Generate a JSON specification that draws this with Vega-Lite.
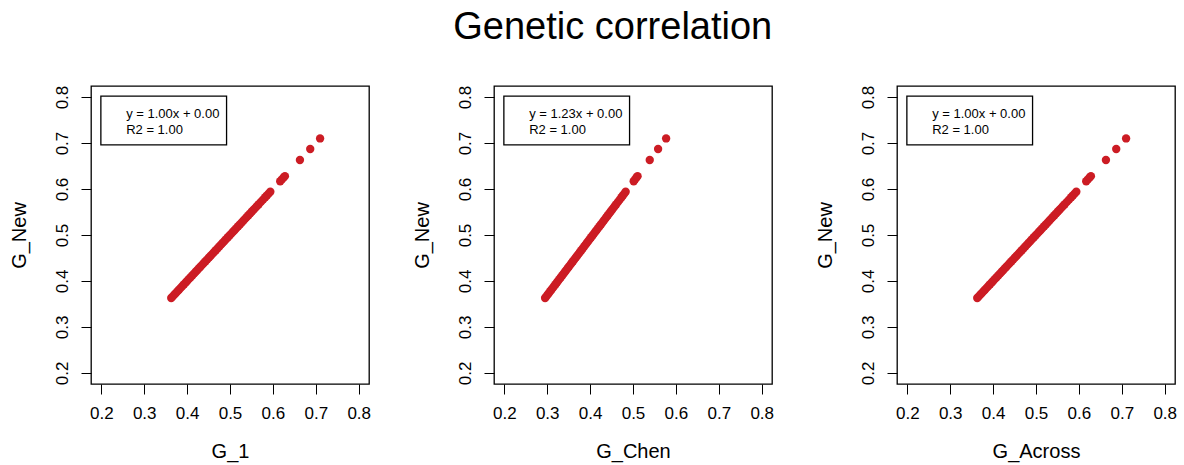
{
  "$schema": "https://vega.github.io/schema/vega-lite/v6.json",
  "background": "white",
  "padding": {"left": 8, "top": 8, "right": 5, "bottom": 5},
  "title": {"text": "Genetic correlation", "fontSize": 38, "fontWeight": "normal", "font": "Liberation Sans", "color": "black", "anchor": "middle", "offset": 38, "dx": 20},
  "config": {
    "font": "Liberation Sans",
    "view": {"stroke": "black", "strokeWidth": 1.3},
    "concat": {"spacing": 125},
    "axis": {"grid": false, "domain": false, "tickColor": "black", "tickSize": 10, "tickWidth": 1, "labelFont": "Liberation Sans", "labelFontSize": 17, "labelColor": "black", "titleFont": "Liberation Sans", "titleFontSize": 20, "titleFontWeight": "normal", "titleColor": "black", "values": [0.2, 0.3, 0.4, 0.5, 0.6, 0.7, 0.8], "format": ".1f", "labelOverlap": false, "labelBound": false, "labelFlush": false}
  },
  "bounds": "flush",
  "datasets": {
    "pts": [
      {"G_New": 0.363, "G_1": 0.363, "G_Chen": 0.2951, "G_Across": 0.363},
      {"G_New": 0.366, "G_1": 0.366, "G_Chen": 0.2976, "G_Across": 0.366},
      {"G_New": 0.370, "G_1": 0.370, "G_Chen": 0.3008, "G_Across": 0.370},
      {"G_New": 0.374, "G_1": 0.374, "G_Chen": 0.3041, "G_Across": 0.374},
      {"G_New": 0.378, "G_1": 0.378, "G_Chen": 0.3073, "G_Across": 0.378},
      {"G_New": 0.381, "G_1": 0.381, "G_Chen": 0.3098, "G_Across": 0.381},
      {"G_New": 0.385, "G_1": 0.385, "G_Chen": 0.3130, "G_Across": 0.385},
      {"G_New": 0.389, "G_1": 0.389, "G_Chen": 0.3163, "G_Across": 0.389},
      {"G_New": 0.393, "G_1": 0.393, "G_Chen": 0.3195, "G_Across": 0.393},
      {"G_New": 0.397, "G_1": 0.397, "G_Chen": 0.3228, "G_Across": 0.397},
      {"G_New": 0.400, "G_1": 0.400, "G_Chen": 0.3252, "G_Across": 0.400},
      {"G_New": 0.404, "G_1": 0.404, "G_Chen": 0.3285, "G_Across": 0.404},
      {"G_New": 0.408, "G_1": 0.408, "G_Chen": 0.3317, "G_Across": 0.408},
      {"G_New": 0.412, "G_1": 0.412, "G_Chen": 0.3350, "G_Across": 0.412},
      {"G_New": 0.416, "G_1": 0.416, "G_Chen": 0.3382, "G_Across": 0.416},
      {"G_New": 0.420, "G_1": 0.420, "G_Chen": 0.3415, "G_Across": 0.420},
      {"G_New": 0.424, "G_1": 0.424, "G_Chen": 0.3447, "G_Across": 0.424},
      {"G_New": 0.428, "G_1": 0.428, "G_Chen": 0.3480, "G_Across": 0.428},
      {"G_New": 0.431, "G_1": 0.431, "G_Chen": 0.3504, "G_Across": 0.431},
      {"G_New": 0.435, "G_1": 0.435, "G_Chen": 0.3537, "G_Across": 0.435},
      {"G_New": 0.439, "G_1": 0.439, "G_Chen": 0.3569, "G_Across": 0.439},
      {"G_New": 0.443, "G_1": 0.443, "G_Chen": 0.3602, "G_Across": 0.443},
      {"G_New": 0.447, "G_1": 0.447, "G_Chen": 0.3634, "G_Across": 0.447},
      {"G_New": 0.451, "G_1": 0.451, "G_Chen": 0.3667, "G_Across": 0.451},
      {"G_New": 0.455, "G_1": 0.455, "G_Chen": 0.3699, "G_Across": 0.455},
      {"G_New": 0.459, "G_1": 0.459, "G_Chen": 0.3732, "G_Across": 0.459},
      {"G_New": 0.463, "G_1": 0.463, "G_Chen": 0.3764, "G_Across": 0.463},
      {"G_New": 0.467, "G_1": 0.467, "G_Chen": 0.3797, "G_Across": 0.467},
      {"G_New": 0.471, "G_1": 0.471, "G_Chen": 0.3829, "G_Across": 0.471},
      {"G_New": 0.475, "G_1": 0.475, "G_Chen": 0.3862, "G_Across": 0.475},
      {"G_New": 0.479, "G_1": 0.479, "G_Chen": 0.3894, "G_Across": 0.479},
      {"G_New": 0.483, "G_1": 0.483, "G_Chen": 0.3927, "G_Across": 0.483},
      {"G_New": 0.487, "G_1": 0.487, "G_Chen": 0.3959, "G_Across": 0.487},
      {"G_New": 0.491, "G_1": 0.491, "G_Chen": 0.3992, "G_Across": 0.491},
      {"G_New": 0.495, "G_1": 0.495, "G_Chen": 0.4024, "G_Across": 0.495},
      {"G_New": 0.499, "G_1": 0.499, "G_Chen": 0.4057, "G_Across": 0.499},
      {"G_New": 0.503, "G_1": 0.503, "G_Chen": 0.4089, "G_Across": 0.503},
      {"G_New": 0.507, "G_1": 0.507, "G_Chen": 0.4122, "G_Across": 0.507},
      {"G_New": 0.511, "G_1": 0.511, "G_Chen": 0.4154, "G_Across": 0.511},
      {"G_New": 0.515, "G_1": 0.515, "G_Chen": 0.4187, "G_Across": 0.515},
      {"G_New": 0.519, "G_1": 0.519, "G_Chen": 0.4220, "G_Across": 0.519},
      {"G_New": 0.523, "G_1": 0.523, "G_Chen": 0.4252, "G_Across": 0.523},
      {"G_New": 0.527, "G_1": 0.527, "G_Chen": 0.4285, "G_Across": 0.527},
      {"G_New": 0.531, "G_1": 0.531, "G_Chen": 0.4317, "G_Across": 0.531},
      {"G_New": 0.535, "G_1": 0.535, "G_Chen": 0.4350, "G_Across": 0.535},
      {"G_New": 0.539, "G_1": 0.539, "G_Chen": 0.4382, "G_Across": 0.539},
      {"G_New": 0.543, "G_1": 0.543, "G_Chen": 0.4415, "G_Across": 0.543},
      {"G_New": 0.547, "G_1": 0.547, "G_Chen": 0.4447, "G_Across": 0.547},
      {"G_New": 0.551, "G_1": 0.551, "G_Chen": 0.4480, "G_Across": 0.551},
      {"G_New": 0.555, "G_1": 0.555, "G_Chen": 0.4512, "G_Across": 0.555},
      {"G_New": 0.559, "G_1": 0.559, "G_Chen": 0.4545, "G_Across": 0.559},
      {"G_New": 0.563, "G_1": 0.563, "G_Chen": 0.4577, "G_Across": 0.563},
      {"G_New": 0.567, "G_1": 0.567, "G_Chen": 0.4610, "G_Across": 0.567},
      {"G_New": 0.572, "G_1": 0.572, "G_Chen": 0.4650, "G_Across": 0.572},
      {"G_New": 0.577, "G_1": 0.577, "G_Chen": 0.4691, "G_Across": 0.577},
      {"G_New": 0.582, "G_1": 0.582, "G_Chen": 0.4732, "G_Across": 0.582},
      {"G_New": 0.586, "G_1": 0.586, "G_Chen": 0.4764, "G_Across": 0.586},
      {"G_New": 0.590, "G_1": 0.590, "G_Chen": 0.4797, "G_Across": 0.590},
      {"G_New": 0.594, "G_1": 0.594, "G_Chen": 0.4829, "G_Across": 0.594},
      {"G_New": 0.617, "G_1": 0.617, "G_Chen": 0.5016, "G_Across": 0.617},
      {"G_New": 0.621, "G_1": 0.621, "G_Chen": 0.5049, "G_Across": 0.621},
      {"G_New": 0.625, "G_1": 0.625, "G_Chen": 0.5081, "G_Across": 0.625},
      {"G_New": 0.628, "G_1": 0.628, "G_Chen": 0.5106, "G_Across": 0.628},
      {"G_New": 0.663, "G_1": 0.663, "G_Chen": 0.5390, "G_Across": 0.663},
      {"G_New": 0.687, "G_1": 0.687, "G_Chen": 0.5585, "G_Across": 0.687},
      {"G_New": 0.710, "G_1": 0.710, "G_Chen": 0.5772, "G_Across": 0.710}
    ],
    "one": [{}]
  },
  "hconcat": [
    {
      "width": 278, "height": 298,
      "layer": [
        {"data": {"name": "pts"}, "mark": {"type": "circle", "size": 70, "opacity": 1, "color": "#cc1c24"},
         "encoding": {
           "x": {"field": "G_1", "type": "quantitative", "scale": {"domain": [0.176, 0.824], "nice": false, "zero": false}, "axis": {"labelPadding": 11, "titlePadding": 20}},
           "y": {"field": "G_New", "type": "quantitative", "scale": {"domain": [0.176, 0.824], "nice": false, "zero": false}, "axis": {"labelAngle": -90, "labelAlign": "center", "labelBaseline": "bottom", "labelPadding": 10, "titlePadding": 24}}
         }},
        {"data": {"name": "one"}, "mark": {"type": "rect", "fill": null, "fillOpacity": 0, "stroke": "black", "strokeWidth": 1.3},
         "encoding": {"x": {"datum": 0.199, "type": "quantitative"}, "x2": {"datum": 0.492}, "y": {"datum": 0.802, "type": "quantitative"}, "y2": {"datum": 0.696}}},
        {"data": {"name": "one"}, "mark": {"type": "text", "align": "left", "baseline": "middle", "fontSize": 13, "color": "black", "text": "y = 1.00x + 0.00"},
         "encoding": {"x": {"datum": 0.258, "type": "quantitative"}, "y": {"datum": 0.764, "type": "quantitative"}}},
        {"data": {"name": "one"}, "mark": {"type": "text", "align": "left", "baseline": "middle", "fontSize": 13, "color": "black", "text": "R2 = 1.00"},
         "encoding": {"x": {"datum": 0.258, "type": "quantitative"}, "y": {"datum": 0.729, "type": "quantitative"}}}
      ]
    },
    {
      "width": 278, "height": 298,
      "layer": [
        {"data": {"name": "pts"}, "mark": {"type": "circle", "size": 70, "opacity": 1, "color": "#cc1c24"},
         "encoding": {
           "x": {"field": "G_Chen", "type": "quantitative", "scale": {"domain": [0.176, 0.824], "nice": false, "zero": false}, "axis": {"labelPadding": 11, "titlePadding": 20}},
           "y": {"field": "G_New", "type": "quantitative", "scale": {"domain": [0.176, 0.824], "nice": false, "zero": false}, "axis": {"labelAngle": -90, "labelAlign": "center", "labelBaseline": "bottom", "labelPadding": 10, "titlePadding": 24}}
         }},
        {"data": {"name": "one"}, "mark": {"type": "rect", "fill": null, "fillOpacity": 0, "stroke": "black", "strokeWidth": 1.3},
         "encoding": {"x": {"datum": 0.199, "type": "quantitative"}, "x2": {"datum": 0.492}, "y": {"datum": 0.802, "type": "quantitative"}, "y2": {"datum": 0.696}}},
        {"data": {"name": "one"}, "mark": {"type": "text", "align": "left", "baseline": "middle", "fontSize": 13, "color": "black", "text": "y = 1.23x + 0.00"},
         "encoding": {"x": {"datum": 0.258, "type": "quantitative"}, "y": {"datum": 0.764, "type": "quantitative"}}},
        {"data": {"name": "one"}, "mark": {"type": "text", "align": "left", "baseline": "middle", "fontSize": 13, "color": "black", "text": "R2 = 1.00"},
         "encoding": {"x": {"datum": 0.258, "type": "quantitative"}, "y": {"datum": 0.729, "type": "quantitative"}}}
      ]
    },
    {
      "width": 278, "height": 298,
      "layer": [
        {"data": {"name": "pts"}, "mark": {"type": "circle", "size": 70, "opacity": 1, "color": "#cc1c24"},
         "encoding": {
           "x": {"field": "G_Across", "type": "quantitative", "scale": {"domain": [0.176, 0.824], "nice": false, "zero": false}, "axis": {"labelPadding": 11, "titlePadding": 20}},
           "y": {"field": "G_New", "type": "quantitative", "scale": {"domain": [0.176, 0.824], "nice": false, "zero": false}, "axis": {"labelAngle": -90, "labelAlign": "center", "labelBaseline": "bottom", "labelPadding": 10, "titlePadding": 24}}
         }},
        {"data": {"name": "one"}, "mark": {"type": "rect", "fill": null, "fillOpacity": 0, "stroke": "black", "strokeWidth": 1.3},
         "encoding": {"x": {"datum": 0.199, "type": "quantitative"}, "x2": {"datum": 0.492}, "y": {"datum": 0.802, "type": "quantitative"}, "y2": {"datum": 0.696}}},
        {"data": {"name": "one"}, "mark": {"type": "text", "align": "left", "baseline": "middle", "fontSize": 13, "color": "black", "text": "y = 1.00x + 0.00"},
         "encoding": {"x": {"datum": 0.258, "type": "quantitative"}, "y": {"datum": 0.764, "type": "quantitative"}}},
        {"data": {"name": "one"}, "mark": {"type": "text", "align": "left", "baseline": "middle", "fontSize": 13, "color": "black", "text": "R2 = 1.00"},
         "encoding": {"x": {"datum": 0.258, "type": "quantitative"}, "y": {"datum": 0.729, "type": "quantitative"}}}
      ]
    }
  ]
}
